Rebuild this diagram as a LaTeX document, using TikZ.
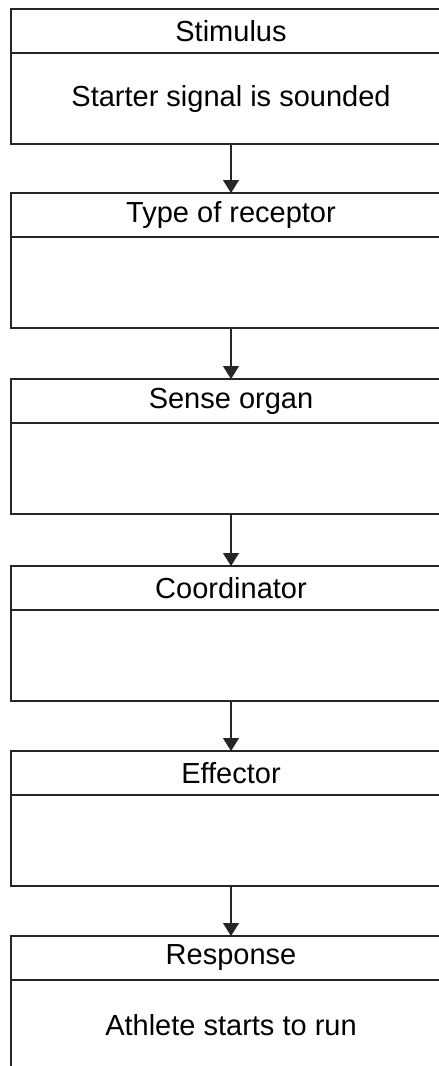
\documentclass[tikz,border=0pt]{standalone}
\usepackage{fontspec}
\setmainfont{Liberation Sans}
\usetikzlibrary{arrows.meta}
\tikzset{
  boxpart/.style={draw=black!85, line width=1.2pt, minimum width=440pt, inner sep=0pt, outer sep=0pt, font=\fontsize{29}{34}\selectfont, anchor=north},
  headbox/.style={boxpart, minimum height=44pt},
  bodybox/.style={boxpart, minimum height=91pt},
  flowarrow/.style={draw=black!85, line width=1.2pt, -{Triangle[width=16pt,length=13pt]}}
}
\begin{document}
\begin{tikzpicture}[x=1pt,y=-1pt]
\useasboundingbox (0,0) rectangle (439,1066);
\clip (0,0) rectangle (439,1066);
\fill[white] (0,0) rectangle (439,1066);
\node[headbox] (h1) at (231,9) {Stimulus};
\node[bodybox] (b1) at (h1.south) {Starter signal is sounded};
\node[headbox] (h2) at (231,193) {Type of receptor};
\node[bodybox] (b2) at (h2.south) {};
\node[headbox] (h3) at (231,379) {Sense organ};
\node[bodybox] (b3) at (h3.south) {};
\node[headbox] (h4) at (231,566) {Coordinator};
\node[bodybox] (b4) at (h4.south) {};
\node[headbox] (h5) at (231,751) {Effector};
\node[bodybox] (b5) at (h5.south) {};
\node[headbox] (h6) at (231,936) {Response};
\node[bodybox] (b6) at (h6.south) {Athlete starts to run};
\draw[flowarrow] (b1.south) -- (h2.north);
\draw[flowarrow] (b2.south) -- (h3.north);
\draw[flowarrow] (b3.south) -- (h4.north);
\draw[flowarrow] (b4.south) -- (h5.north);
\draw[flowarrow] (b5.south) -- (h6.north);
\end{tikzpicture}
\end{document}
